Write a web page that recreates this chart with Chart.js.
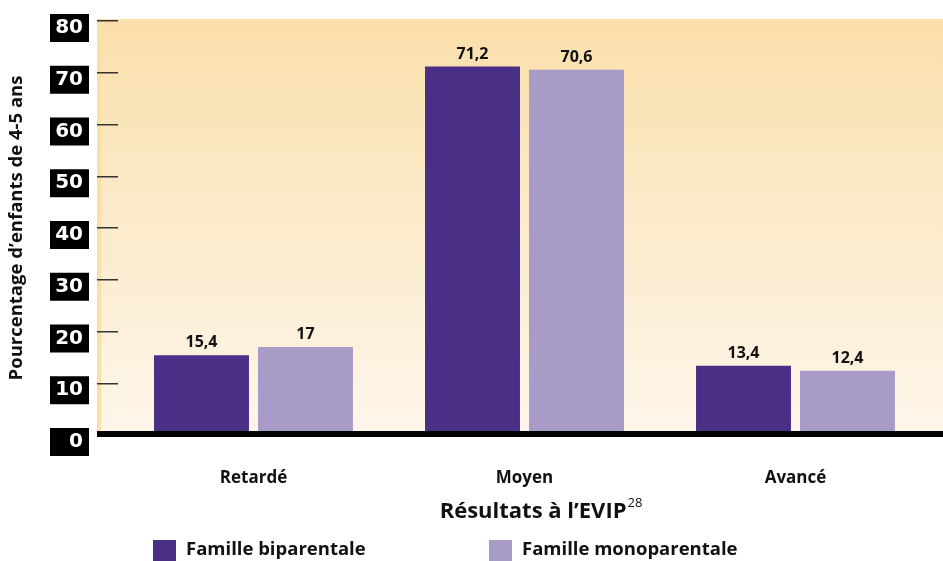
<!DOCTYPE html>
<html>
<head>
<meta charset="utf-8">
<script src="https://cdn.jsdelivr.net/npm/chart.js@4/dist/chart.umd.min.js"></script>
<style>
html,body{margin:0;padding:0;background:#fff;}
canvas{display:block;}
</style>
</head>
<body>
<canvas id="c" width="943" height="561"></canvas>
<script>
const categories = ['Retardé', 'Moyen', 'Avancé'];
const seriesNames = ['Famille biparentale', 'Famille monoparentale'];
const biparentale = [15.4, 71.2, 13.4];
const monoparentale = [17, 70.6, 12.4];
const yAxisTitle = 'Pourcentage d’enfants de 4-5 ans';
const xAxisTitle = 'Résultats à l’EVIP';
const xAxisTitleSup = '28';

const FONT = '"Open Sans", "Noto Sans", sans-serif';
const colors = ['#4a2f87', '#a99bc8'];

const decor = {
  id: 'decor',
  beforeDraw(chart) {
    const ctx = chart.ctx, y = chart.scales.y;
    const y0 = y.getPixelForValue(0);
    ctx.save();
    ctx.fillStyle = '#fff';
    ctx.fillRect(0, 0, chart.width, chart.height);
    const top = y.getPixelForValue(y.max) - 2;
    const g = ctx.createLinearGradient(0, top, 0, y0);
    g.addColorStop(0, '#fadfab');
    g.addColorStop(0.5, '#fbebcc');
    g.addColorStop(1, '#fef6ea');
    ctx.fillStyle = g;
    ctx.fillRect(97, top, chart.width - 97, y0 - top);
    ctx.fillStyle = '#fbe0a6';
    ctx.fillRect(97, top, 4, y0 - top);
    ctx.fillStyle = '#000';
    y.ticks.forEach(t => {
      const py = y.getPixelForValue(t.value) + 7;
      ctx.fillRect(50, py - 14, 39, 28);
    });
    ctx.restore();
  },
  afterDatasetsDraw(chart) {
    const ctx = chart.ctx, y = chart.scales.y;
    const y0 = y.getPixelForValue(0);
    ctx.save();
    ctx.fillStyle = '#000';
    ctx.fillRect(97, y0 - 4, chart.width - 97, 6);
    ctx.font = 'bold 16px ' + FONT;
    ctx.textAlign = 'center';
    ctx.textBaseline = 'alphabetic';
    ctx.fillStyle = '#111';
    chart.data.datasets.forEach((ds, di) => {
      const meta = chart.getDatasetMeta(di);
      meta.data.forEach((bar, i) => {
        const txt = String(ds.data[i]).replace('.', ',');
        ctx.fillText(txt, bar.x, bar.y - 8);
      });
    });
    ctx.textAlign = 'left';
    ctx.font = 'bold 22px ' + FONT;
    const w1 = ctx.measureText(xAxisTitle).width;
    ctx.font = '13px ' + FONT;
    const w2 = ctx.measureText(xAxisTitleSup).width;
    const ca = chart.chartArea;
    const cx = (ca.left + ca.right) / 2 + 16;
    const sx = cx - (w1 + w2) / 2;
    ctx.font = 'bold 22px ' + FONT;
    ctx.fillText(xAxisTitle, sx, 518);
    ctx.font = '13px ' + FONT;
    ctx.fillText(xAxisTitleSup, sx + w1 + 1, 507);
    const lx = [153, 489];
    ctx.font = 'bold 18.5px ' + FONT;
    ctx.textBaseline = 'middle';
    chart.data.datasets.forEach((ds, di) => {
      ctx.fillStyle = ds.backgroundColor;
      ctx.fillRect(lx[di], 540, 23, 21);
      ctx.fillStyle = '#111';
      ctx.fillText(ds.label, lx[di] + 33, 550);
    });
    ctx.restore();
  }
};

new Chart(document.getElementById('c'), {
  type: 'bar',
  data: {
    labels: categories,
    datasets: [
      { label: seriesNames[0], data: biparentale, backgroundColor: colors[0] },
      { label: seriesNames[1], data: monoparentale, backgroundColor: colors[1] }
    ]
  },
  options: {
    responsive: false,
    animation: false,
    devicePixelRatio: 1,
    layout: { padding: { top: 21, right: 12, bottom: 0, left: 0 } },
    categoryPercentage: 0.7675,
    barPercentage: 0.913,
    plugins: { legend: { display: false }, tooltip: { enabled: false } },
    scales: {
      x: {
        grid: { display: false, drawTicks: false },
        border: { display: false },
        ticks: { color: '#111', font: { family: FONT, size: 17, weight: 'bold' }, padding: 33 },
        afterFit(s) { s.height = 126; }
      },
      y: {
        min: 0, max: 80,
        ticks: { stepSize: 10, color: '#fff', font: { family: '"DejaVu Sans", sans-serif', size: 20, weight: 'bold' }, padding: 14, labelOffset: 7 },
        grid: { drawOnChartArea: false, tickLength: 21, color: '#333', lineWidth: 1.5 },
        border: { display: false },
        title: { display: true, text: yAxisTitle, color: '#111', font: { family: FONT, size: 18.5, weight: 'bold' }, padding: { top: 6, bottom: 0 } },
        afterFit(s) { s.width = 118; s.paddingTop = 0; s.paddingBottom = 0; }
      }
    }
  },
  plugins: [decor]
});
</script>
</body>
</html>
